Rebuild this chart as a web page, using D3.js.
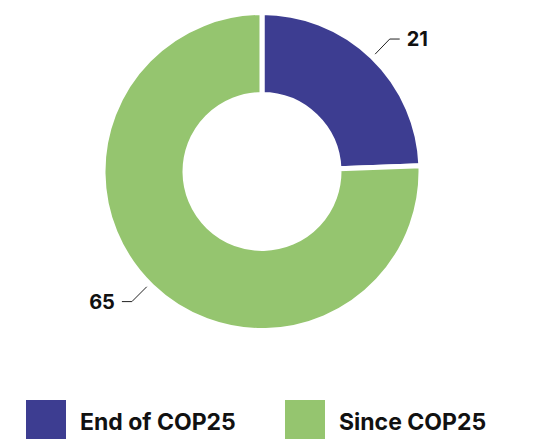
<!DOCTYPE html>
<html>
<head>
<meta charset="utf-8">
<script src="https://cdn.jsdelivr.net/npm/d3@7"></script>
<style>
  html, body { margin: 0; padding: 0; background: #fff; }
  svg { display: block; }
  text { font-family: Inter, "Open Sans", sans-serif; font-weight: 700; fill: #111; }
</style>
</head>
<body>
<svg id="chart" width="534" height="439"></svg>
<script>
const categories = ["End of COP25", "Since COP25"];
const values = [21, 65];
const colors = ["#3d3d91", "#95c56f"];

const W = 534, H = 439;
const cx = 262, cy = 171.5;
const outerR = 159, innerR = 77;

const svg = d3.select("#chart");
const g = svg.append("g").attr("transform", `translate(${cx},${cy})`);

const data = categories.map((c, i) => ({ name: c, value: values[i], color: colors[i] }));
const pie = d3.pie().value(d => d.value).sort(null);
const arcs = pie(data);
const arc = d3.arc().innerRadius(innerR).outerRadius(outerR);

g.selectAll("path.slice")
  .data(arcs)
  .enter().append("path")
  .attr("class", "slice")
  .attr("d", arc)
  .attr("fill", d => d.data.color)
  .attr("stroke", "#fff")
  .attr("stroke-width", 5)
  .attr("stroke-linejoin", "round");

// data labels with connectors (Highcharts-like placement)
const labelAngleOverride = [null, 225 * Math.PI / 180];
const r1 = 163, r2 = 184, hLen = 10, gap = 7;
arcs.forEach((a, i) => {
  const ang = labelAngleOverride[i] != null ? labelAngleOverride[i] : (a.startAngle + a.endAngle) / 2;
  const p1 = [r1 * Math.sin(ang), -r1 * Math.cos(ang)];
  const p2 = [r2 * Math.sin(ang), -r2 * Math.cos(ang)];
  const right = Math.sin(ang) >= 0;
  const p3 = [p2[0] + (right ? hLen : -hLen), p2[1]];
  g.append("path")
    .attr("d", d3.line()([p1, p2, p3]))
    .attr("fill", "none")
    .attr("stroke", "#222")
    .attr("stroke-width", 1);
  g.append("text")
    .attr("x", p3[0] + (right ? gap : -gap))
    .attr("y", p3[1])
    .attr("dy", "0.35em")
    .attr("text-anchor", right ? "start" : "end")
    .style("font-size", "20px")
    .text(a.data.value);
});

// legend
const legendX = [26, 285];
const legend = svg.append("g");
data.forEach((d, i) => {
  legend.append("rect")
    .attr("x", legendX[i]).attr("y", 400)
    .attr("width", 40).attr("height", 39)
    .attr("fill", d.color);
  legend.append("text")
    .attr("x", legendX[i] + 54).attr("y", 430)
    .style("font-size", "23px")
    .text(d.name);
});
</script>
</body>
</html>
